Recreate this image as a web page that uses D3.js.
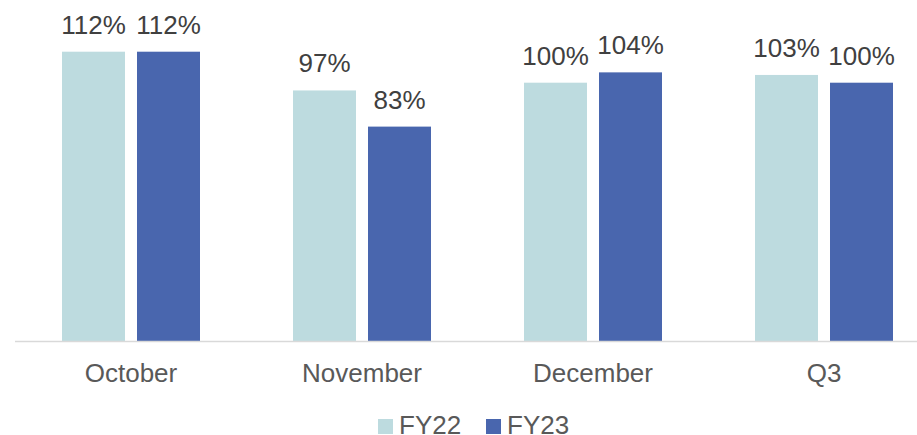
<!DOCTYPE html>
<html>
<head>
<meta charset="utf-8">
<script src="https://cdn.jsdelivr.net/npm/d3@7"></script>
<style>
  body { margin: 0; background: #fff; }
  text { font-family: "Liberation Sans", Arial, sans-serif; }
</style>
</head>
<body>
<div id="chart"></div>
<script>
const categories = ["October", "November", "December", "Q3"];
const seriesNames = ["FY22", "FY23"];
const fy22 = [1.12, 0.97, 1.00, 1.03];
const fy23 = [1.12, 0.83, 1.04, 1.00];
const colors = ["#bddbdf", "#4966ae"];

const width = 917, height = 435;
const baseline = 341;

const svg = d3.select("#chart")
  .append("svg")
  .attr("width", width)
  .attr("height", height);

const rows = categories.map((c, i) => ({ cat: c, values: [fy22[i], fy23[i]] }));

const x0 = d3.scaleBand()
  .domain(categories)
  .range([15.5, 939.5])
  .padding(0);

const groupW = 138;
const x1 = d3.scaleBand()
  .domain(seriesNames)
  .range([0, groupW])
  .paddingInner(0.16)
  .paddingOuter(0);

const y = d3.scaleLinear()
  .domain([0, 1.2])
  .range([baseline, baseline - 1.2 * 258.3]);

const fmt = d3.format(".0%");

const groups = svg.append("g")
  .selectAll("g")
  .data(rows)
  .enter()
  .append("g")
  .attr("transform", d => `translate(${x0(d.cat) + (x0.bandwidth() - groupW) / 2},0)`);

groups.selectAll("rect")
  .data(d => d.values.map((v, i) => ({ name: seriesNames[i], v: v, i: i })))
  .enter()
  .append("rect")
  .attr("x", d => x1(d.name))
  .attr("y", d => y(d.v))
  .attr("width", x1.bandwidth())
  .attr("height", d => baseline - y(d.v))
  .attr("fill", d => colors[d.i]);

groups.selectAll("text.lbl")
  .data(d => d.values.map((v, i) => ({ name: seriesNames[i], v: v })))
  .enter()
  .append("text")
  .attr("class", "lbl")
  .attr("x", d => x1(d.name) + x1.bandwidth() / 2)
  .attr("y", d => y(d.v) - 18)
  .attr("text-anchor", "middle")
  .attr("font-size", "26px")
  .attr("fill", "#404040")
  .text(d => fmt(d.v));

// x axis
const xAxis = svg.append("g")
  .attr("transform", `translate(0,${baseline})`)
  .call(d3.axisBottom(x0).tickSize(0).tickPadding(0));
xAxis.select(".domain").remove();
xAxis.selectAll("text")
  .attr("y", 41)
  .attr("dy", 0)
  .attr("font-size", "26px")
  .attr("font-family", "\"Liberation Sans\", Arial, sans-serif")
  .attr("fill", "#595959");

svg.append("line")
  .attr("x1", 15)
  .attr("x2", width)
  .attr("y1", baseline + 0.5)
  .attr("y2", baseline + 0.5)
  .attr("stroke", "#d9d9d9")
  .attr("stroke-width", 1.5);

// legend
const legendX = [378, 486];
const legend = svg.append("g")
  .selectAll("g")
  .data(seriesNames)
  .enter()
  .append("g")
  .attr("transform", (d, i) => `translate(${legendX[i]},419)`);

legend.append("rect")
  .attr("width", 15)
  .attr("height", 15)
  .attr("fill", (d, i) => colors[i]);

legend.append("text")
  .attr("x", 21)
  .attr("y", 15)
  .attr("font-size", "26px")
  .attr("fill", "#595959")
  .text(d => d);
</script>
</body>
</html>
